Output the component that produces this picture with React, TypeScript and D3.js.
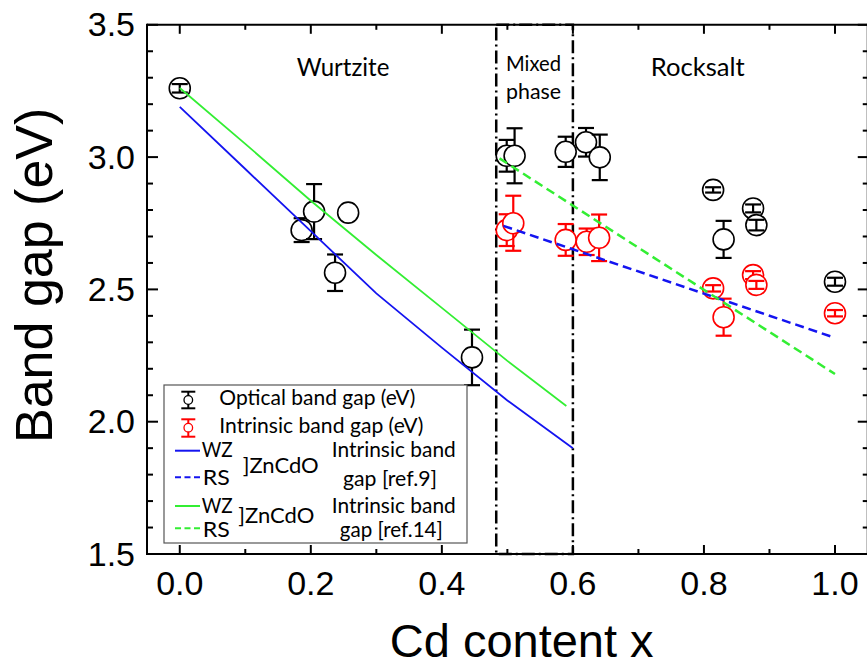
import React from "react";
import * as d3 from "d3";

// ---------- data ----------
const opticalX = [0.0, 0.186, 0.205, 0.237, 0.257, 0.446, 0.499, 0.511, 0.589, 0.62, 0.641, 0.814, 0.83, 0.875, 0.88, 1.0];
const opticalY = [3.26, 2.724, 2.794, 2.563, 2.79, 2.243, 3.005, 3.005, 3.02, 3.056, 2.999, 2.876, 2.689, 2.806, 2.743, 2.529];
const opticalErr = [0.016, 0.045, 0.104, 0.069, 0, 0.105, 0.06, 0.104, 0.057, 0.054, 0.086, 0.01, 0.07, 0.015, 0.02, 0.015];

const intrinsicX = [0.499, 0.509, 0.589, 0.621, 0.64, 0.814, 0.83, 0.875, 0.88, 1.0];
const intrinsicY = [2.724, 2.75, 2.687, 2.68, 2.695, 2.504, 2.395, 2.554, 2.517, 2.41];
const intrinsicErr = [0.06, 0.104, 0.06, 0.05, 0.088, 0.012, 0.07, 0.015, 0.015, 0.012];

// Ref.9 (blue)
const wz9X = [0.0, 0.1, 0.2, 0.3, 0.4, 0.5, 0.6];
const wz9Y = [3.19, 2.955, 2.72, 2.485, 2.28, 2.08, 1.9];
const rs9X = [0.494, 1.0];
const rs9Y = [2.74, 2.317];
// Ref.14 (green)
const wz14X = [0.0, 0.1, 0.2, 0.3, 0.4, 0.5, 0.59];
const wz14Y = [3.261, 3.05, 2.835, 2.63, 2.43, 2.23, 2.059];
const rs14X = [0.488, 1.0];
const rs14Y = [2.995, 2.18];

const xMajorTicks = [0.0, 0.2, 0.4, 0.6, 0.8, 1.0];
const xMinorTicks = [0.1, 0.3, 0.5, 0.7, 0.9];
const yMajorTicks = [1.5, 2.0, 2.5, 3.0, 3.5];
const yMinorTicks = [1.6, 1.7, 1.8, 1.9, 2.1, 2.2, 2.3, 2.4, 2.6, 2.7, 2.8, 2.9, 3.1, 3.2, 3.3, 3.4];

const mixedPhase = [0.483, 0.6];

// ---------- layout ----------
const W = 867;
const H = 662;
const xs = d3.scaleLinear().domain([-0.05, 1.05]).range([147, 867.75]);
const ys = d3.scaleLinear().domain([1.5, 3.5]).range([554, 24.8]);

const BLUE = "#1414f0";
const GREEN = "#33ee33";
const RED = "#ff0000";
const SANS = "'Liberation Sans', Arial, sans-serif";
const CAL = "Lato, 'Open Sans', sans-serif";

const R = 10.5;

function ErrPoint({ x, y, e, color }: { x: number; y: number; e: number; color: string }) {
  const cx = xs(x);
  const cy = ys(y);
  const top = ys(y + e);
  const bot = ys(y - e);
  const big = cy - top > R;
  const cw = 8;
  return (
    <g stroke={color} fill="none">
      <circle cx={cx} cy={cy} r={R} fill="white" strokeWidth={1.6} />
      {e > 0 && (
        <g strokeWidth={2.2}>
          {big ? (
            <>
              <line x1={cx} x2={cx} y1={top} y2={cy - R} />
              <line x1={cx} x2={cx} y1={cy + R} y2={bot} />
            </>
          ) : (
            <line x1={cx} x2={cx} y1={top} y2={bot} />
          )}
          <line x1={cx - cw} x2={cx + cw} y1={top} y2={top} />
          <line x1={cx - cw} x2={cx + cw} y1={bot} y2={bot} />
        </g>
      )}
    </g>
  );
}

export default function App() {
  const line = d3
    .line<[number, number]>()
    .x((d) => xs(d[0]))
    .y((d) => ys(d[1]));
  const zip = (a: number[], b: number[]) => a.map((v, i) => [v, b[i]] as [number, number]);

  const x0 = xs.range()[0];
  const x1 = xs.range()[1];
  const y0 = ys.range()[0];
  const y1 = ys.range()[1];

  return (
    <svg
      width={W}
      height={H}
      style={{ position: "absolute", left: 0, top: 0, background: "white" }}
      xmlns="http://www.w3.org/2000/svg"
    >
      <rect x={0} y={0} width={W} height={H} fill="white" />

      {/* mixed phase box */}
      <rect
        x={xs(mixedPhase[0])}
        y={y1}
        width={xs(mixedPhase[1]) - xs(mixedPhase[0])}
        height={y0 - y1}
        fill="none"
        stroke="black"
        strokeWidth={2.5}
        strokeDasharray="13 4 2 4"
      />

      {/* data points */}
      {opticalX.map((x, i) => (
        <ErrPoint key={"o" + i} x={x} y={opticalY[i]} e={opticalErr[i]} color="black" />
      ))}
      {intrinsicX.map((x, i) => (
        <ErrPoint key={"r" + i} x={x} y={intrinsicY[i]} e={intrinsicErr[i]} color={RED} />
      ))}

      {/* model lines */}
      <path d={line(zip(wz9X, wz9Y)) || ""} fill="none" stroke={BLUE} strokeWidth={1.8} />
      <path d={line(zip(wz14X, wz14Y)) || ""} fill="none" stroke={GREEN} strokeWidth={1.8} />
      <path d={line(zip(rs9X, rs9Y)) || ""} fill="none" stroke={BLUE} strokeWidth={2.5} strokeDasharray="9 5" />
      <path d={line(zip(rs14X, rs14Y)) || ""} fill="none" stroke={GREEN} strokeWidth={2.5} strokeDasharray="9 5" />

      {/* axes frame */}
      <g stroke="black" strokeWidth={2}>
        <line x1={x0} x2={x1 + 2} y1={y0} y2={y0} />
        <line x1={x0} x2={x1 + 2} y1={y1} y2={y1} />
        <line x1={x0} x2={x0} y1={y1 - 1} y2={y0 + 1} />
        <line x1={x1} x2={x1} y1={y1 - 1} y2={y0 + 1} />
        {xMajorTicks.map((t) => (
          <g key={"xM" + t}>
            <line x1={xs(t)} x2={xs(t)} y1={y0} y2={y0 - 9} />
            <line x1={xs(t)} x2={xs(t)} y1={y1} y2={y1 + 9} />
          </g>
        ))}
        {xMinorTicks.map((t) => (
          <g key={"xm" + t}>
            <line x1={xs(t)} x2={xs(t)} y1={y0} y2={y0 - 5} />
            <line x1={xs(t)} x2={xs(t)} y1={y1} y2={y1 + 5} />
          </g>
        ))}
        {yMajorTicks.map((t) => (
          <g key={"yM" + t}>
            <line x1={x0} x2={x0 + 11} y1={ys(t)} y2={ys(t)} />
            <line x1={x1} x2={x1 - 10} y1={ys(t)} y2={ys(t)} />
          </g>
        ))}
        {yMinorTicks.map((t) => (
          <g key={"ym" + t}>
            <line x1={x0} x2={x0 + 6} y1={ys(t)} y2={ys(t)} />
            <line x1={x1} x2={x1 - 5} y1={ys(t)} y2={ys(t)} />
          </g>
        ))}
      </g>

      {/* tick labels */}
      <g fontFamily={SANS} fontSize={34} fill="black">
        {xMajorTicks.map((t) => (
          <text key={"xl" + t} x={xs(t)} y={595} textAnchor="middle">
            {d3.format(".1f")(t)}
          </text>
        ))}
        {yMajorTicks.map((t) => (
          <text key={"yl" + t} x={135} y={ys(t) + 11.5} textAnchor="end">
            {d3.format(".1f")(t)}
          </text>
        ))}
      </g>

      {/* axis titles */}
      <text x={521.7} y={656.7} textAnchor="middle" fontFamily={SANS} fontSize={47} fill="black">
        Cd content x
      </text>
      <text
        transform="translate(52,443) rotate(-90)"
        x={0}
        y={0}
        textAnchor="start"
        fontFamily={SANS}
        fontSize={52}
        fill="black"
      >
        Band gap (eV)
      </text>

      {/* region annotations */}
      <g fontFamily={CAL} fill="black">
        <text x={296.7} y={76} fontSize={25} textLength={92.7} lengthAdjust="spacingAndGlyphs">Wurtzite</text>
        <text x={650.7} y={76} fontSize={25} textLength={94} lengthAdjust="spacingAndGlyphs">Rocksalt</text>
        <text x={506} y={70.7} fontSize={21} textLength={55} lengthAdjust="spacingAndGlyphs">Mixed</text>
        <text x={506} y={99} fontSize={21} textLength={55} lengthAdjust="spacingAndGlyphs">phase</text>
      </g>

      {/* legend */}
      <g>
        <rect x={164} y={385} width={303} height={158} fill="white" stroke="#555" strokeWidth={1.2} />
        <g stroke="black" fill="none">
          <line x1={188.3} x2={188.3} y1={391.7} y2={408.3} strokeWidth={2} />
          <line x1={181.3} x2={195.3} y1={391.7} y2={391.7} strokeWidth={2} />
          <line x1={181.3} x2={195.3} y1={408.3} y2={408.3} strokeWidth={2} />
          <circle cx={188.3} cy={400} r={4.3} fill="white" strokeWidth={1.3} />
        </g>
        <g stroke={RED} fill="none">
          <line x1={188.3} x2={188.3} y1={419.3} y2={436.7} strokeWidth={2} />
          <line x1={181.3} x2={195.3} y1={419.3} y2={419.3} strokeWidth={2} />
          <line x1={181.3} x2={195.3} y1={436.7} y2={436.7} strokeWidth={2} />
          <circle cx={188.3} cy={427.7} r={4.3} fill="white" strokeWidth={1.3} />
        </g>
        <line x1={175} x2={200} y1={450.7} y2={450.7} stroke={BLUE} strokeWidth={2} />
        <line x1={175} x2={200} y1={477.3} y2={477.3} stroke={BLUE} strokeWidth={2} strokeDasharray="6 3.5" />
        <line x1={175} x2={200} y1={506} y2={506} stroke={GREEN} strokeWidth={2} />
        <line x1={175} x2={200} y1={528.3} y2={528.3} stroke={GREEN} strokeWidth={2} strokeDasharray="6 3.5" />
        <g fontFamily={CAL} fontSize={20.5} fill="black">
          <text x={219.3} y={405} textLength={196} lengthAdjust="spacingAndGlyphs">Optical band gap (eV)</text>
          <text x={219.3} y={433} textLength={204} lengthAdjust="spacingAndGlyphs">Intrinsic band gap (eV)</text>
          <text x={201.7} y={457.3} textLength={31} lengthAdjust="spacingAndGlyphs">WZ</text>
          <text x={202.7} y={485} textLength={27} lengthAdjust="spacingAndGlyphs">RS</text>
          <text x={242.7} y={473.3} textLength={76} lengthAdjust="spacingAndGlyphs">]ZnCdO</text>
          <text x={393.8} y={457.3} textAnchor="middle" textLength={124} lengthAdjust="spacingAndGlyphs">Intrinsic band</text>
          <text x={390} y={486} textAnchor="middle" textLength={94} lengthAdjust="spacingAndGlyphs">gap [ref.9]</text>
          <text x={201.7} y={513.3} textLength={31} lengthAdjust="spacingAndGlyphs">WZ</text>
          <text x={202.7} y={536.7} textLength={27} lengthAdjust="spacingAndGlyphs">RS</text>
          <text x={238.3} y={522.7} textLength={76} lengthAdjust="spacingAndGlyphs">]ZnCdO</text>
          <text x={393.8} y={513.3} textAnchor="middle" textLength={124} lengthAdjust="spacingAndGlyphs">Intrinsic band</text>
          <text x={391.3} y={536.7} textAnchor="middle" textLength={103} lengthAdjust="spacingAndGlyphs">gap [ref.14]</text>
        </g>
      </g>
    </svg>
  );
}
